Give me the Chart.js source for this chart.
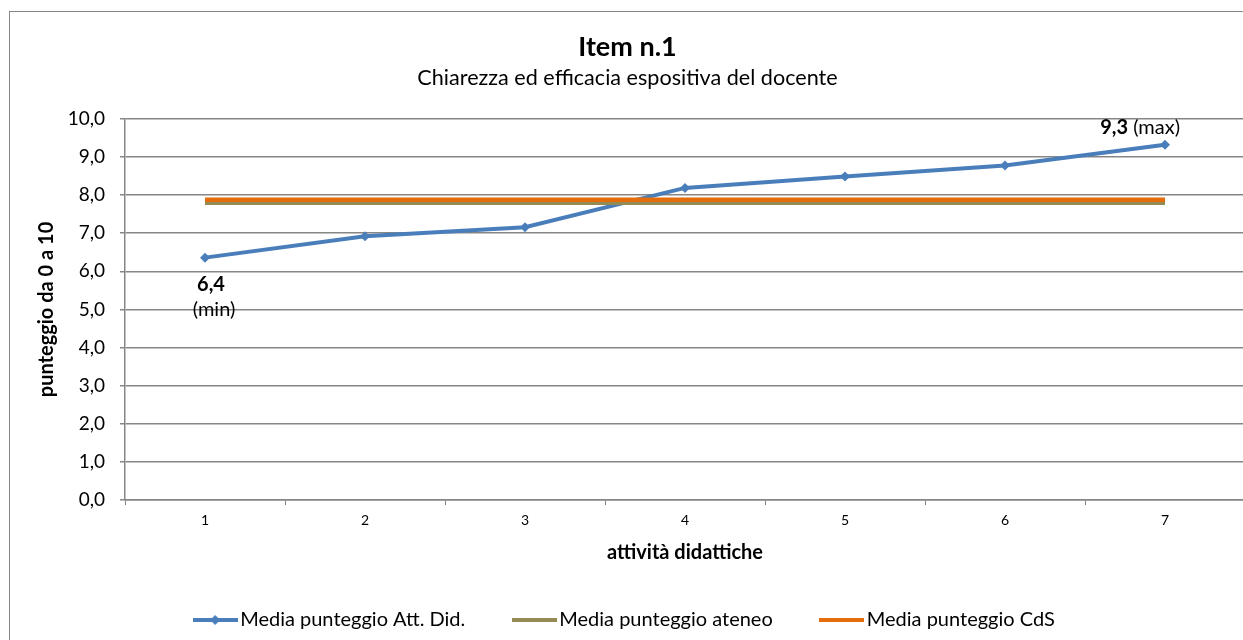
<!DOCTYPE html>
<html>
<head>
<meta charset="utf-8">
<script src="https://cdn.jsdelivr.net/npm/chart.js@4"></script>
<style>
    html, body { margin: 0; padding: 0; background: #fff; overflow: hidden; }
    #frame {
        position: absolute; left: 9px; top: 11px;
        width: 1246px; height: 650px;
        border-left: 1px solid #868686; border-top: 1px solid #868686;
    }
    #chart { display: block; }
</style>
</head>
<body>
<div id="frame"><canvas id="chart" width="1246" height="650"></canvas></div>
<script>
// dati
const attivita = ['1', '2', '3', '4', '5', '6', '7'];
const mediaAttDid = [6.36, 6.92, 7.16, 8.19, 8.49, 8.78, 9.32];
const mediaAteneo = [7.80, 7.80, 7.80, 7.80, 7.80, 7.80, 7.80];
const mediaCdS = [7.88, 7.88, 7.88, 7.88, 7.88, 7.88, 7.88];

const FONT = 'Lato';
const GRID = '#868686';
const colors = {
    blue: '#4a7ebb',
    olive: '#948a54',
    orange: '#e46c0a'
};

const fmt = v => v.toFixed(1).replace('.', ',');

// icona della legenda: linea (con rombo per la serie principale)
function legendIcon(color, withMarker) {
    const c = document.createElement('canvas');
    c.width = 45; c.height = 12;
    const g = c.getContext('2d');
    g.strokeStyle = color;
    g.lineWidth = 4;
    g.beginPath(); g.moveTo(0, 6); g.lineTo(45, 6); g.stroke();
    if (withMarker) {
        g.fillStyle = color;
        g.beginPath();
        g.moveTo(22.5, 1); g.lineTo(27.5, 6); g.lineTo(22.5, 11); g.lineTo(17.5, 6);
        g.closePath(); g.fill();
    }
    return c;
}

// etichette min / max sulla serie principale
const markExtremes = {
    id: 'markExtremes',
    afterDatasetsDraw(chart) {
        const meta = chart.getDatasetMeta(0);
        const ctx = chart.ctx;
        const lo = Math.min(...mediaAttDid);
        const hi = Math.max(...mediaAttDid);
        const pMin = meta.data[mediaAttDid.indexOf(lo)];
        const pMax = meta.data[mediaAttDid.indexOf(hi)];
        ctx.save();
        ctx.fillStyle = '#000';
        ctx.textBaseline = 'middle';
        ctx.textAlign = 'center';
        ctx.font = 'bold 20px ' + FONT;
        ctx.fillText(fmt(lo), pMin.x + 6, pMin.y + 27);
        ctx.font = '20px ' + FONT;
        ctx.fillText('(min)', pMin.x + 9, pMin.y + 52);

        ctx.textAlign = 'left';
        const right = pMax.x + 15;
        ctx.font = '20px ' + FONT;
        const tail = ' (max)';
        const wTail = ctx.measureText(tail).width;
        ctx.font = 'bold 20px ' + FONT;
        const head = fmt(hi);
        const wHead = ctx.measureText(head).width;
        const x0 = right - wTail - wHead;
        ctx.fillText(head, x0, pMax.y - 17);
        ctx.font = '20px ' + FONT;
        ctx.fillText(tail, x0 + wHead, pMax.y - 17);
        ctx.restore();
    }
};

new Chart(document.getElementById('chart'), {
    type: 'line',
    data: {
        labels: attivita,
        datasets: [
            {
                label: 'Media punteggio Att. Did.',
                data: mediaAttDid,
                borderColor: colors.blue,
                backgroundColor: colors.blue,
                borderWidth: 4,
                pointStyle: 'rectRot',
                pointRadius: 5,
                pointBorderWidth: 0,
                tension: 0,
                order: 3
            },
            {
                label: 'Media punteggio ateneo',
                data: mediaAteneo,
                borderColor: colors.olive,
                backgroundColor: colors.olive,
                borderWidth: 4.5,
                pointRadius: 0,
                order: 2
            },
            {
                label: 'Media punteggio CdS',
                data: mediaCdS,
                borderColor: colors.orange,
                backgroundColor: colors.orange,
                borderWidth: 4.5,
                pointRadius: 0,
                order: 1
            }
        ]
    },
    options: {
        responsive: false,
        animation: false,
        layout: { padding: { left: 0, right: 11, top: 0, bottom: 22 } },
        plugins: {
            title: {
                display: true,
                text: 'Item n.1',
                color: '#000',
                font: { family: FONT, size: 27, weight: 'bold', lineHeight: 1.2 },
                padding: { top: 18.8, bottom: 0 }
            },
            subtitle: {
                display: true,
                text: 'Chiarezza ed efficacia espositiva del docente',
                color: '#000',
                font: { family: FONT, size: 21.6, lineHeight: 1.2 },
                padding: { top: 1.8, bottom: 28 }
            },
            legend: {
                position: 'bottom',
                labels: {
                    color: '#000',
                    font: { family: FONT, size: 20 },
                    usePointStyle: true,
                    pointStyleWidth: 30,
                    padding: 54,
                    sort: (a, b) => a.datasetIndex - b.datasetIndex,
                    generateLabels(chart) {
                        return chart.data.datasets.map((ds, i) => ({
                            text: ds.label,
                            datasetIndex: i,
                            fillStyle: ds.borderColor,
                            strokeStyle: ds.borderColor,
                            lineWidth: 0,
                            fontColor: '#000',
                            pointStyle: legendIcon(ds.borderColor, i === 0)
                        }));
                    }
                }
            },
            tooltip: { enabled: false }
        },
        scales: {
            x: {
                offset: true,
                grid: {
                    offset: true,
                    drawOnChartArea: false,
                    color: GRID,
                    tickLength: 5
                },
                border: { color: GRID, width: 1.5 },
                ticks: {
                    color: '#000',
                    font: { family: FONT, size: 14 },
                    padding: 6.6
                },
                title: {
                    display: true,
                    text: 'attività didattiche',
                    color: '#000',
                    font: { family: FONT, size: 20, weight: 'bold', lineHeight: 1.2 },
                    padding: { top: 0, bottom: -9 }
                },
                afterFit(scale) { scale.height = 56; }
            },
            y: {
                min: 0,
                max: 10,
                ticks: {
                    stepSize: 1,
                    color: '#000',
                    font: { family: FONT, size: 19 },
                    padding: 15,
                    callback: v => fmt(v)
                },
                grid: { color: GRID, lineWidth: 1.5, tickLength: 5 },
                border: { color: GRID, width: 1.5 },
                title: {
                    display: true,
                    text: 'punteggio da 0 a 10',
                    color: '#000',
                    font: { family: FONT, size: 20, weight: 'bold', lineHeight: 1.2 },
                    padding: { top: 25, bottom: 0 }
                },
                afterFit(scale) { scale.width = 115; }
            }
        }
    },
    plugins: [markExtremes]
});
</script>
</body>
</html>
